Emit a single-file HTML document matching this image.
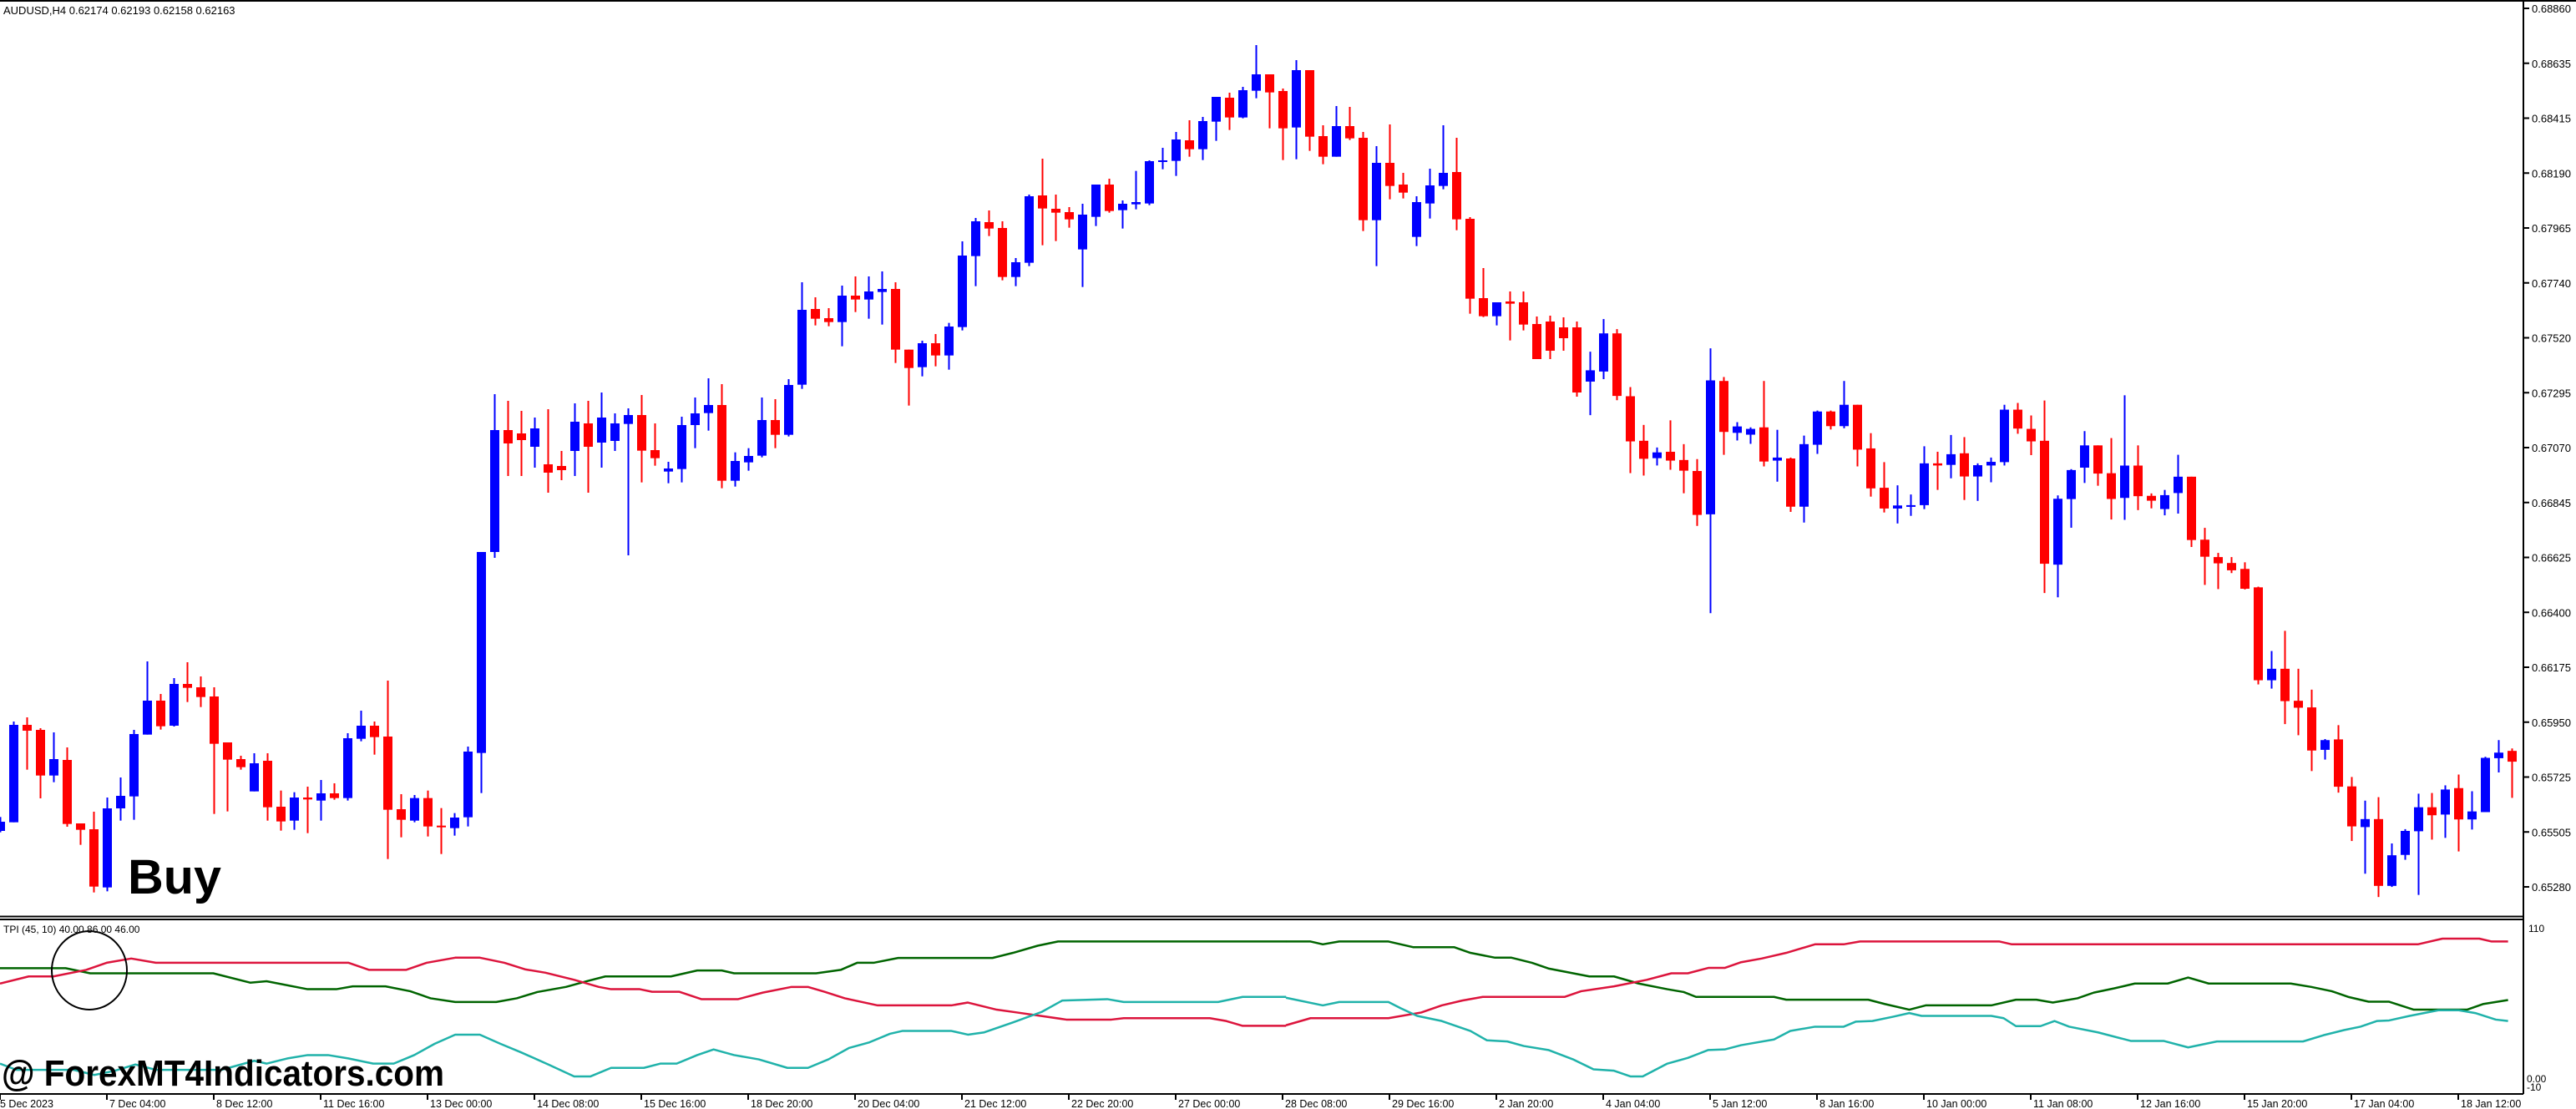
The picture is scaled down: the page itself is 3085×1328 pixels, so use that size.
<!DOCTYPE html>
<html><head><meta charset="utf-8"><style>
html,body{margin:0;padding:0;background:#fff;}
svg{display:block;}
text{font-family:"Liberation Sans",sans-serif;}
</style></head><body>
<svg id="s" xmlns="http://www.w3.org/2000/svg" width="3085" height="1328" viewBox="0 0 3085 1328">
<rect width="3085" height="1328" fill="#fff"/>
<line x1="0" y1="1" x2="3085" y2="1" stroke="#000" stroke-width="2"/>
<text x="4" y="17" font-size="13">AUDUSD,H4  0.62174 0.62193 0.62158 0.62163</text>
<g id="candles"></g>
<text x="153" y="1070" font-size="58" font-weight="bold" textLength="112" lengthAdjust="spacingAndGlyphs">Buy</text>
<line x1="3022" y1="0" x2="3022" y2="1310" stroke="#000" stroke-width="2"/>
<line x1="0" y1="1097.5" x2="3022" y2="1097.5" stroke="#000" stroke-width="2"/>
<line x1="0" y1="1101" x2="3022" y2="1101" stroke="#000" stroke-width="2"/>
<line x1="0" y1="1310" x2="3022" y2="1310" stroke="#000" stroke-width="2"/>
<g id="ptx" font-size="13"></g>
<text x="4" y="1117" font-size="12">TPI (45, 10) 40.00 86.00 46.00</text>
<g fill="none" stroke-width="2.5" stroke-linejoin="round">
<g transform="translate(0,1090) scale(0.9823,0.3401)">
<polyline vector-effect="non-scaling-stroke" stroke="#006400" points="0,204 80,204 110,222 260,222 305,255 325,250 375,278 410,278 430,268 470,268 500,285 525,310 555,323 605,323 630,310 655,288 690,270 715,250 738,233 818,233 850,212 880,212 895,222 995,222 1025,210 1045,185 1065,185 1095,168 1210,168 1235,150 1265,125 1290,110 1568,110"/>
<polyline vector-effect="non-scaling-stroke" stroke="#dc143c" points="0,258 35,233 65,233 105,210 130,185 160,170 190,185 425,185 450,210 495,210 520,185 555,167 585,167 615,185 640,208 665,220 700,245 730,270 745,278 780,278 795,287 828,287 855,313 900,313 930,290 965,270 985,270 1005,287 1030,310 1070,335 1160,335 1180,325 1215,350 1240,360 1300,385 1355,385 1370,380 1475,380 1495,390 1515,407 1568,407"/>
<polyline vector-effect="non-scaling-stroke" stroke="#20b2aa" points="0,540 20,562 90,562 115,580 140,565 165,543 190,562 270,562 310,530 325,540 350,522 375,510 400,510 425,522 455,540 480,540 505,510 530,470 555,438 585,438 610,470 635,500 670,545 700,585 720,585 745,555 785,555 805,540 825,540 850,510 870,490 895,510 925,525 960,555 985,555 1010,525 1035,485 1060,465 1085,435 1100,425 1160,425 1180,438 1200,430 1235,395 1270,358 1295,318 1350,313 1370,323 1485,323 1515,305 1568,305"/>
</g>
<g transform="translate(1540,1090) scale(0.9823,0.3401)">
<polyline vector-effect="non-scaling-stroke" stroke="#006400" points="0,110 30,110 45,120 65,110 125,110 155,130 205,130 225,150 255,167 275,167 300,185 320,205 370,233 400,233 430,258 465,278 485,288 500,305 595,305 610,315 710,315 730,330 760,350 780,335 860,335 890,315 915,315 935,325 965,310 985,290 1010,275 1035,258 1075,258 1100,237 1125,258 1225,258 1250,270 1275,285 1295,305 1320,322 1345,322 1375,350 1440,350 1460,330 1490,316"/>
<polyline vector-effect="non-scaling-stroke" stroke="#dc143c" points="0,405 30,380 125,380 165,360 190,335 215,318 240,305 340,305 360,285 400,268 440,245 470,222 490,222 515,203 535,203 555,183 580,170 610,150 645,120 680,120 700,110 870,110 885,120 1380,120 1410,100 1455,100 1470,110 1490,110"/>
<polyline vector-effect="non-scaling-stroke" stroke="#20b2aa" points="0,308 45,335 65,323 125,323 140,345 160,372 190,390 225,425 245,458 270,462 290,478 320,492 350,525 375,560 400,565 420,585 435,585 465,540 490,520 515,492 535,490 555,475 595,455 615,425 645,410 680,410 695,392 715,390 740,375 760,362 775,372 860,372 875,380 890,408 920,408 937,390 955,410 990,430 1030,460 1070,460 1100,483 1135,462 1240,462 1265,440 1290,422 1310,410 1330,390 1345,388 1370,372 1405,352 1430,352 1450,362 1475,385 1490,390"/>
</g>
</g>
<ellipse cx="107" cy="1162" rx="45" ry="47" fill="none" stroke="#000" stroke-width="2"/>
<text x="3028" y="1116" font-size="12">110</text>
<text x="3026" y="1296" font-size="12">0.00</text>
<text x="3026" y="1306" font-size="12">-10</text>
<g id="ttx" font-size="12.5"></g>
<text x="2" y="1300" font-size="44" font-weight="bold" textLength="530" lengthAdjust="spacingAndGlyphs">@ ForexMT4Indicators.com</text>
</svg>
<script>
(function(){
var NS="http://www.w3.org/2000/svg";
function el(p,n,a,t){var e=document.createElementNS(NS,n);for(var k in a)e.setAttribute(k,a[k]);if(t!=null)e.textContent=t;p.appendChild(e);return e;}
var G=[
{xo:0,yo:780,sx:2.063,sy:3,c:[[0,595,612,645,650,'b'],[33,252,264,614,614,'b'],[66,237,264,285,425,'r'],[99,276,282,446,528,'r'],[132,291,387,446,470,'b'],[165,345,390,620,630,'r'],[198,618,618,641,695,'r'],[231,576,639,845,866,'r'],[264,525,564,848,862,'b'],[297,453,519,564,608,'b'],[330,282,297,521,605,'b'],[363,36,177,299,299,'b'],[396,153,177,269,281,'r'],[429,96,117,267,270,'b'],[462,39,117,131,182,'r'],[495,90,129,164,200,'r'],[528,129,162,332,584,'r'],[561,327,327,389,575,'r'],[594,375,387,416,425,'r'],[627,366,402,503,503,'b'],[660,366,393,560,608,'r'],[693,500,558,611,644,'r'],[726,506,525,608,641,'b'],[759,486,525,532,653,'r'],[792,462,510,536,608,'b'],[825,474,510,527,533,'r'],[858,294,312,527,536,'b'],[891,213,267,314,323,'b'],[924,252,267,308,371,'r'],[957,105,306,569,746,'r'],[990,513,567,605,668,'r'],[1023,516,527,608,614,'b'],[1056,500,527,629,665,'r'],[1089,563,626,632,728,'r'],[1122,581,597,635,662,'b'],[1155,342,360,596,629,'b'],[1188,-357,-357,365,509,'b']]},
{xo:0,yo:0,sx:1,sy:1,c:[[592.5,472,515,661,668,'b'],[608.5,480,515,531,570,'r'],[624.5,492,519,527,570,'r'],[640.5,500,513,535,560,'b'],[656.5,490,556,566,590,'r'],[672.5,540,558,563,575,'r'],[688.5,483,505,540,570,'b'],[704.5,480,507,535,590,'r'],[720.5,470,500,530,560,'b'],[736.5,495,507,528,540,'b'],[1856.5,378,385,420,430,'r'],[1872.5,380,392,405,420,'r'],[1888.5,385,392,470,475,'r']]},
{xo:740,yo:170,sx:2.613,sy:3,c:[[33,957,981,1013,1485,'b'],[75,909,981,1109,1223,'r'],[116,1011,1107,1136,1163,'r'],[158,1149,1173,1184,1226,'b'],[200,987,1017,1175,1223,'b'],[241,918,975,1017,1100,'b'],[283,849,945,974,1037,'b'],[325,870,945,1217,1244,'r'],[367,1115,1146,1217,1238,'b'],[409,1100,1128,1151,1181,'b'],[450,918,999,1127,1133,'b'],[492,924,999,1052,1100,'r'],[534,852,873,1052,1058,'b'],[576,504,603,872,887,'b'],[618,558,600,635,659,'r'],[660,597,633,647,662,'r'],[701,516,552,647,734,'b'],[743,483,552,566,611,'r'],[785,483,537,566,635,'b'],[827,465,528,539,656,'b'],[869,504,528,746,794,'r'],[910,746,746,812,947,'r'],[952,714,723,809,842,'b'],[994,690,723,767,806,'r'],[1036,650,663,767,818,'b'],[1078,357,408,665,677,'b'],[1119,273,285,410,518,'b'],[1161,246,288,311,338,'r'],[1203,285,309,485,497,'r'],[1245,417,432,485,518,'b'],[1287,189,195,434,446,'b'],[1328,60,192,239,371,'r'],[1370,189,240,254,356,'r'],[1412,234,252,278,308,'r'],[1454,222,261,386,521,'b'],[1496,153,153,269,302,'b'],[1538,132,153,248,254,'r']]},
{xo:1330,yo:40,sx:2.658,sy:3,c:[[38,600,612,635,701,'b'],[81,494,606,614,632,'b'],[123,456,459,611,617,'b'],[166,411,456,461,488,'b'],[208,354,381,458,512,'b'],[251,312,384,416,443,'r'],[293,300,315,416,455,'b'],[336,228,228,317,386,'b'],[378,213,231,302,347,'r'],[421,192,204,302,305,'b'],[463,42,147,206,233,'b'],[506,147,147,212,341,'r'],[548,198,207,341,455,'r'],[591,96,132,338,452,'b'],[633,132,132,371,422,'r'],[676,330,369,443,470,'r'],[719,261,333,443,443,'b'],[761,264,333,377,383,'r'],[804,354,375,671,710,'r'],[846,405,465,671,836,'b'],[889,327,465,548,596,'r'],[931,501,543,572,593,'r'],[974,585,606,731,764,'b'],[1016,486,546,611,665,'b'],[1059,330,501,548,560,'b'],[1101,375,498,668,707,'r'],[1144,660,666,953,1007,'r'],[1186,843,951,1016,1019,'r'],[1229,966,966,1016,1049,'b'],[1271,927,963,971,1103,'r'],[1314,927,966,1046,1067,'r'],[1356,1017,1044,1170,1170,'r']]},
{xo:1900,yo:180,sx:2.658,sy:2.737,c:[[12,660,721,758,868,'b'],[54,553,600,725,750,'b'],[97,586,600,805,819,'r'],[139,776,806,954,1058,'r'],[182,900,952,1011,1066,'r'],[224,974,990,1009,1033,'b'],[266,885,988,1017,1047,'r'],[309,963,1015,1050,1124,'r'],[352,1012,1051,1195,1231,'r'],[394,649,754,1193,1517,'b'],[437,743,756,923,998,'r'],[479,891,905,926,951,'b'],[522,908,913,932,962,'b'],[564,756,908,1020,1036,'r'],[607,916,1007,1017,1086,'b'],[649,1007,1010,1168,1185,'r'],[692,935,963,1168,1220,'b'],[734,853,856,965,995,'b'],[777,853,856,904,915,'r'],[819,756,834,904,911,'b'],[862,834,834,981,1036,'r'],[905,927,977,1108,1135,'r'],[947,1022,1106,1174,1187,'r'],[990,1098,1164,1174,1223,'b'],[1032,1128,1163,1166,1198,'b'],[1075,970,1026,1163,1176,'b'],[1117,988,1026,1033,1113,'r'],[1160,933,996,1031,1075,'b'],[1202,940,993,1069,1146,'r'],[1245,1026,1032,1069,1149,'b'],[1287,1007,1021,1033,1088,'b'],[1330,834,850,1022,1033,'b'],[1372,828,850,912,929,'r'],[1415,869,913,954,999,'r'],[1457,820,952,1355,1451,'r'],[1500,1131,1142,1358,1465,'b'],[1542,1045,1048,1143,1237,'b']]},
{xo:2470,yo:440,sx:2.8,sy:2.4,c:[[74,183,224,288,332,'b'],[119,224,224,305,340,'r'],[163,203,304,378,437,'r'],[208,80,282,375,438,'b'],[253,224,282,370,410,'r'],[298,362,369,383,405,'r'],[343,352,367,407,425,'b'],[387,251,314,361,420,'b'],[432,314,314,496,516,'r'],[477,461,495,544,625,'r'],[522,533,545,563,637,'r'],[567,545,562,583,591,'r'],[611,560,579,636,638,'r'],[656,630,632,899,911,'r'],[701,815,866,899,923,'b'],[746,757,866,959,1025,'r'],[791,866,958,978,1057,'r'],[835,926,977,1101,1160,'r'],[880,1068,1071,1099,1127,'b'],[925,1028,1069,1205,1222,'r'],[970,1177,1204,1319,1361,'r'],[1015,1245,1298,1321,1455,'b'],[1059,1235,1298,1490,1522,'r'],[1104,1368,1402,1490,1493,'b'],[1149,1327,1332,1401,1415,'b'],[1194,1225,1264,1333,1516,'b'],[1239,1223,1264,1287,1357,'r'],[1283,1201,1213,1285,1352,'b'],[1328,1170,1209,1299,1391,'r'],[1373,1218,1276,1299,1328,'b'],[1418,1119,1122,1278,1278,'b'],[1463,1071,1107,1123,1164,'b'],[1507,1095,1102,1133,1237,'r']]}
];
var cg=document.getElementById('candles');
G.forEach(function(g){g.c.forEach(function(c){
 var ox=g.xo+c[0]/g.sx;var k=Math.round((ox-0.5)/16);var cx=16*k+0.5;
 var Y=function(v){return g.yo+v/g.sy;};
 var h=Y(c[1]),t=Y(c[2]),b=Y(c[3]),l=Y(c[4]);
 var col=c[5]=='b'?'#0000ff':'#ff0000';
 if(t<0)t=0;if(h<0)h=0;
 el(cg,'rect',{x:cx-1,y:h,width:2,height:Math.max(l-h,1),fill:col});
 el(cg,'rect',{x:cx-5.5,y:t,width:11,height:Math.max(b-t,2),fill:col});
});});
var P=['0.68860','0.68635','0.68415','0.68190','0.67965','0.67740','0.67520','0.67295','0.67070','0.66845','0.66625','0.66400','0.66175','0.65950','0.65725','0.65505','0.65280'];
var pg=document.getElementById('ptx');
P.forEach(function(p,i){var y=10+i*65.75;
 el(pg,'line',{x1:3022,y1:y,x2:3029,y2:y,stroke:'#000','stroke-width':2});
 el(pg,'text',{x:3032,y:y+5},p);});
var T=['5 Dec 2023','7 Dec 04:00','8 Dec 12:00','11 Dec 16:00','13 Dec 00:00','14 Dec 08:00','15 Dec 16:00','18 Dec 20:00','20 Dec 04:00','21 Dec 12:00','22 Dec 20:00','27 Dec 00:00','28 Dec 08:00','29 Dec 16:00','2 Jan 20:00','4 Jan 04:00','5 Jan 12:00','8 Jan 16:00','10 Jan 00:00','11 Jan 08:00','12 Jan 16:00','15 Jan 20:00','17 Jan 04:00','18 Jan 12:00'];
var tg=document.getElementById('ttx');
T.forEach(function(s,i){var x=i*128;
 el(tg,'line',{x1:x,y1:1310,x2:x,y2:1317,stroke:'#000','stroke-width':2});
 el(tg,'text',{x:x+(i?3:0),y:1326},s);});
})();
</script>
</body></html>
